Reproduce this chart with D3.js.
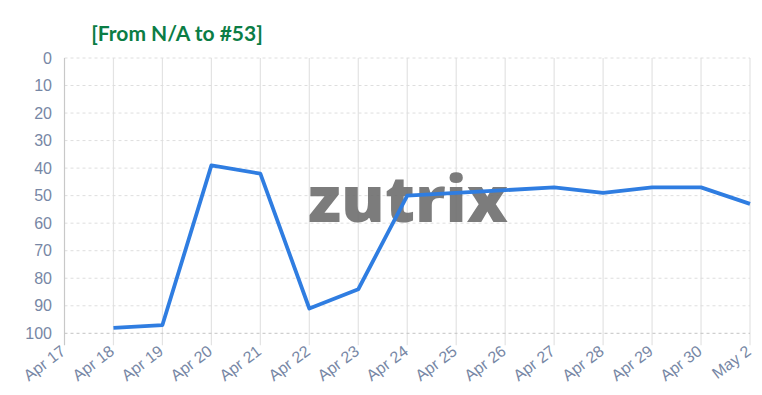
<!DOCTYPE html>
<html>
<head>
<meta charset="utf-8">
<script src="https://cdn.jsdelivr.net/npm/d3@7"></script>
<style>
  body { margin: 0; background: #fff; }
  svg { display: block; }
</style>
</head>
<body>
<div id="chart"></div>
<script>
// chart data
const dates = ['Apr 17', 'Apr 18', 'Apr 19', 'Apr 20', 'Apr 21', 'Apr 22', 'Apr 23', 'Apr 24',
  'Apr 25', 'Apr 26', 'Apr 27', 'Apr 28', 'Apr 29', 'Apr 30', 'May 2']
const ranks = [null, 98, 97, 39, 42, 91, 84, 50, 49, 48, 47, 49, 47, 47, 53]
const yTicks = [0, 10, 20, 30, 40, 50, 60, 70, 80, 90, 100]
const title = '[From N/A to #53]'

const width = 762
const height = 395
const margin = { top: 58, right: 12, bottom: 60, left: 64.5 }

const svg = d3.select('#chart')
  .append('svg')
  .attr('width', width)
  .attr('height', height)

const x = d3.scalePoint()
  .domain(dates)
  .range([margin.left, width - margin.right])

const y = d3.scaleLinear()
  .domain([0, 100])
  .range([margin.top, height - margin.bottom - 1.7])

const labelColor = '#7787a5'

// vertical grid
svg.append('g')
  .selectAll('line')
  .data(dates.slice(1))
  .join('line')
  .attr('x1', d => x(d))
  .attr('x2', d => x(d))
  .attr('y1', y(0))
  .attr('y2', y(100) + 12)
  .attr('stroke', '#e3e3e3')
  .attr('stroke-width', 1.2)

// horizontal grid (dashed)
svg.append('g')
  .selectAll('line')
  .data(yTicks)
  .join('line')
  .attr('x1', margin.left)
  .attr('x2', x('May 2'))
  .attr('y1', d => y(d))
  .attr('y2', d => y(d))
  .attr('stroke', d => d === 100 ? '#c4c4c4' : '#dedede')
  .attr('stroke-dasharray', '3,3')

// left axis line
svg.append('line')
  .attr('x1', margin.left).attr('x2', margin.left)
  .attr('y1', y(0)).attr('y2', y(100) + 12)
  .attr('stroke', '#c8c8c8')
  .attr('stroke-width', 1.2)

// y labels
svg.append('g')
  .selectAll('text')
  .data(yTicks)
  .join('text')
  .attr('x', margin.left - 12.5)
  .attr('y', d => y(d))
  .attr('dy', '0.35em')
  .attr('text-anchor', 'end')
  .attr('fill', labelColor)
  .style('font-family', 'Liberation Sans, Arial, sans-serif')
  .style('font-size', '16px')
  .text(d => d)

// x labels
svg.append('g')
  .selectAll('text')
  .data(dates)
  .join('text')
  .attr('transform', d => `translate(${x(d) + 2},${y(100) + 20}) rotate(-37)`)
  .attr('text-anchor', 'end')
  .attr('fill', labelColor)
  .style('font-family', 'Liberation Sans, Arial, sans-serif')
  .style('font-size', '16px')
  .text(d => d)

// title
svg.append('text')
  .attr('x', 177)
  .attr('y', 41)
  .attr('text-anchor', 'middle')
  .attr('fill', '#0b7d45')
  .style('font-family', 'Lato, sans-serif')
  .style('font-weight', 'bold')
  .style('font-size', '21px')
  .text(title)

// watermark
svg.append('text')
  .attr('x', 308)
  .attr('y', 222)
  .attr('textLength', 200)
  .attr('lengthAdjust', 'spacingAndGlyphs')
  .attr('fill', '#6e6e6e')
  .attr('fill-opacity', 0.9)
  .style('font-family', 'Open Sans, sans-serif')
  .style('font-weight', 800)
  .style('font-size', '64px')
  .text('zutrix')

// rank line
const line = d3.line()
  .defined(d => d[1] !== null)
  .x(d => x(d[0]))
  .y(d => y(d[1]))

svg.append('path')
  .datum(dates.map((d, i) => [d, ranks[i]]))
  .attr('d', line)
  .attr('fill', 'none')
  .attr('stroke', '#2f7de1')
  .attr('stroke-width', 3.8)
  .attr('stroke-linejoin', 'round')
</script>
</body>
</html>
